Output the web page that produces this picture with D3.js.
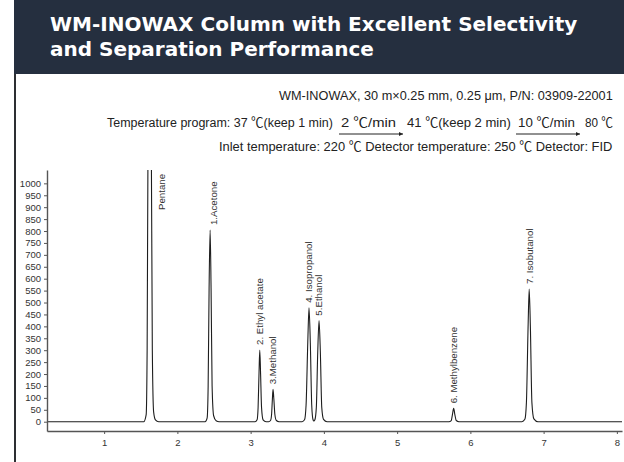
<!DOCTYPE html>
<html><head><meta charset="utf-8">
<script src="https://cdn.jsdelivr.net/npm/d3@7"></script>
<style>body{margin:0;background:#fff} svg{display:block}</style>
</head><body>
<svg id="c" width="624" height="462"></svg>
<script>
// ---------- data ----------
const titleLines = ["WM-INOWAX Column with Excellent Selectivity", "and Separation Performance"];
const columnInfo = "WM-INOWAX, 30 m×0.25 mm, 0.25 μm, P/N: 03909-22001";
const programParts = ["Temperature program: 37 ℃(keep 1 min)", "2 ℃/min", "41 ℃(keep 2 min)", "10 ℃/min", "80 ℃"];
const conditionInfo = "Inlet temperature: 220 ℃  Detector temperature: 250 ℃  Detector:  FID";

const peakNames = ["Pentane", "1.Acetone", "2. Ethyl acetate", "3.Methanol", "4. Isopropanol", "5.Ethanol", "6. Methylbenzene", "7. Isobutanol"];
const peakTimes = [1.621, 2.447, 3.125, 3.306, 3.797, 3.934, 5.772, 6.803];
const peakHeights = [4000, 804, 301, 136, 478, 424, 56, 557];

const xTickValues = [1, 2, 3, 4, 5, 6, 7, 8];
const yTickValues = [0, 50, 100, 150, 200, 250, 300, 350, 400, 450, 500, 550, 600, 650, 700, 750, 800, 850, 900, 950, 1000];

const traceTime = [0.22,
  1.540, 1.574, 1.587, 1.598, 1.621, 1.645, 1.658, 1.676, 1.700, 1.745,
  2.379, 2.406, 2.420, 2.433, 2.447, 2.460, 2.474, 2.495, 2.529, 2.570,
  3.061, 3.088, 3.102, 3.115, 3.125, 3.136, 3.149, 3.170, 3.211,
  3.245, 3.272, 3.286, 3.297, 3.306, 3.317, 3.331, 3.351, 3.388,
  3.702, 3.736, 3.757, 3.780, 3.797, 3.815, 3.834, 3.852, 3.863, 3.877, 3.897, 3.916, 3.934, 3.952, 3.971, 3.995, 4.043,
  5.707, 5.739, 5.755, 5.772, 5.788, 5.807, 5.844,
  6.703, 6.744, 6.765, 6.788, 6.803, 6.819, 6.840, 6.867, 6.922,
  8.07];
const traceSignal = [0,
  0, 30, 300, 1100, 4000, 1100, 300, 40, 8, 0,
  0, 15, 150, 560, 804, 560, 150, 25, 4, 0,
  0, 8, 60, 210, 301, 200, 60, 8, 0,
  0, 5, 30, 95, 136, 95, 30, 5, 0,
  0, 8, 70, 330, 478, 330, 70, 8, 3, 8, 60, 290, 424, 290, 60, 10, 0,
  0, 5, 30, 56, 30, 5, 0,
  0, 10, 80, 400, 557, 400, 80, 12, 0,
  0];

// ---------- drawing ----------
const svg = d3.select("#c");

// header band + left border
svg.append("rect").attr("x", 14).attr("y", 0).attr("width", 610).attr("height", 74).attr("fill", "#252f3f");
svg.append("rect").attr("x", 14).attr("y", 74).attr("width", 2).attr("height", 388).attr("fill", "#2d2f33");

svg.selectAll("text.title").data(titleLines).enter().append("text")
  .attr("class", "title")
  .attr("x", 50).attr("y", (d, i) => 31 + i * 25)
  .attr("fill", "#ffffff")
  .style("font-family", "'DejaVu Sans', sans-serif")
  .style("font-weight", 700)
  .style("font-size", "20px")
  .text(d => d);

// condensed sub-title texts: natural width measured, then squeezed horizontally to the reference width
const subFont = "'Liberation Sans', Arial, 'Noto Sans CJK SC', sans-serif";
function subText(str, x, yy, len) {
  const t = svg.append("text").attr("transform", `translate(${x},${yy})`)
    .style("font-family", subFont).style("font-size", "13.5px").attr("fill", "#222")
    .text(str);
  const w = t.node().getComputedTextLength();
  t.attr("transform", `translate(${x},${yy}) scale(${len / w},1)`);
  return t;
}
subText(columnInfo, 279, 100, 334);
subText(programParts[0], 107, 127, 226);
subText(programParts[1], 341, 127, 55);
subText(programParts[2], 407, 127, 104);
subText(programParts[3], 518, 127, 57);
subText(programParts[4], 585, 127, 28);
subText(conditionInfo, 219, 151, 394);

// arrows
const defs = svg.append("defs");
defs.append("marker").attr("id", "ah").attr("viewBox", "0 0 10 10").attr("refX", 10).attr("refY", 5)
  .attr("markerWidth", 6).attr("markerHeight", 4).attr("orient", "auto").attr("markerUnits", "userSpaceOnUse")
  .append("path").attr("d", "M0,0L10,5L0,10z").attr("fill", "#222");
[[339, 403], [516, 580]].forEach(([a, b]) => {
  svg.append("line").attr("x1", a).attr("x2", b).attr("y1", 134).attr("y2", 134)
    .attr("stroke", "#222").attr("stroke-width", 1).attr("marker-end", "url(#ah)");
});

// scales
const x = d3.scaleLinear().domain([0.22, 8.07]).range([47, 622]);
const y = d3.scaleLinear().domain([-39, 1056]).range([431, 170]);

defs.append("clipPath").attr("id", "plotclip").append("rect")
  .attr("x", 47).attr("y", 170).attr("width", 580).attr("height", 262);

// trace
const pts = traceTime.map((t, i) => [t, traceSignal[i]]);
const line = d3.line().x(d => x(d[0])).y(d => y(d[1])).curve(d3.curveMonotoneX);
svg.append("path").datum(pts).attr("clip-path", "url(#plotclip)")
  .attr("d", line).attr("fill", "none").attr("stroke", "#1e1e1e").attr("stroke-width", 1.1);

// axes
const axFont = "'Liberation Sans', Arial, sans-serif";
const gy = svg.append("g").attr("transform", "translate(47,0)")
  .call(d3.axisLeft(y).tickValues(yTickValues).tickSize(3).tickSizeOuter(0).tickPadding(3).tickFormat(d3.format("d")));
const gx = svg.append("g").attr("transform", "translate(0,431)")
  .call(d3.axisBottom(x).tickValues(xTickValues).tickSize(3).tickSizeOuter(0).tickPadding(5).tickFormat(d3.format("d")));
[gy, gx].forEach(g => {
  g.select(".domain").attr("stroke", "#555").attr("stroke-width", 1.4);
  g.selectAll(".tick line").attr("stroke", "#555");
  g.selectAll(".tick text").style("font-family", axFont).style("font-size", "9.5px").attr("fill", "#333");
});

// peak labels
svg.selectAll("text.peak").data(peakNames).enter().append("text")
  .attr("class", "peak")
  .attr("transform", (d, i) => {
    const offScale = peakHeights[i] > y.domain()[1];
    const px = x(peakTimes[i]) + (offScale ? 11.5 : (i === 1 ? 3 : 0));
    const py = offScale ? y(y.domain()[1]) + 40 : y(peakHeights[i]) - 5;
    return `translate(${px},${py}) rotate(-90)`;
  })
  .attr("dy", "0.35em")
  .style("font-family", axFont).style("font-size", "9.7px").attr("fill", "#333")
  .text(d => d);
</script>
</body></html>
